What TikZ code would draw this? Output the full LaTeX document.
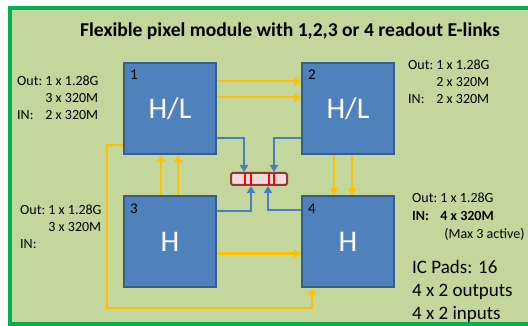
\documentclass[tikz,border=0pt]{standalone}
\usepackage{fontspec}
\setmainfont{Carlito}
\usetikzlibrary{arrows.meta,positioning}
\definecolor{bgGreen}{HTML}{C3D69B}
\definecolor{frGreen}{HTML}{00B050}
\definecolor{chipBlue}{HTML}{4F81BD}
\definecolor{chipEdge}{HTML}{385D8A}
\definecolor{linkBlue}{HTML}{4A7EBB}
\definecolor{linkGold}{HTML}{FFC000}
\definecolor{connPink}{HTML}{F2DCDB}
\definecolor{connRed}{HTML}{953735}

\begin{document}
\begin{tikzpicture}[x=1pt, y=-1pt, node distance=40pt and 84pt,
  chip/.style={draw=chipEdge, line width=2pt, fill=chipBlue, minimum width=92pt, minimum height=91pt, inner sep=0pt, text=white, font=\fontsize{30}{30}\selectfont},
  num/.style={anchor=base west, inner sep=0pt, font=\fontsize{15}{15}\selectfont},
  side/.style={anchor=base west, inner sep=0pt, font=\fontsize{14}{17}\selectfont},
  yl/.style={-{Triangle[length=7pt,width=8pt]}, linkGold, line width=2pt},
  bl/.style={-{Triangle[length=7pt,width=8pt]}, linkBlue, line width=2pt}]
\useasboundingbox (0,0) rectangle (528,326);
\draw[frGreen, line width=4pt, fill=bgGreen] (9.5,8) rectangle (540,324);
\node[anchor=base, font=\fontsize{19.6}{20}\selectfont\bfseries] (title) at (290,37) {Flexible pixel module with 1,2,3 or 4 readout E-links};
% the four chips
\node[chip] (b1) at (170,108.5) {H/L}; \node[chip, right=of b1] (b2) {H/L};
\node[chip, below=of b1] (b3) {H}; \node[chip, right=of b3] (b4) {H};
\node[num] (n1) at ([shift={(7pt,-18pt)}]b1.north west) {1};
\node[num] (n2) at ([shift={(7pt,-18pt)}]b2.north west) {2};
\node[num] (n3) at ([shift={(7pt,-19pt)}]b3.north west) {3};
\node[num] (n4) at ([shift={(7pt,-19pt)}]b4.north west) {4};
% connector
\node[draw=connRed, line width=2pt, fill=connPink, rounded corners=1.5pt, minimum width=56pt, minimum height=12pt, inner sep=0pt] (conn) at (259,179) {};
\foreach \x in {245,251,269,274} \draw[red, line width=1.2pt] (\x,173) -- (\x,185);
% yellow links
\draw[yl]([yshift=27pt]b1.east)--([yshift=27pt]b2.west);
\draw[yl]([yshift=11pt]b1.east)--([yshift=11pt]b2.west);
\draw[yl]([xshift=-9pt]b3.north)--([xshift=-9pt]b1.south);
\draw[yl]([xshift=8pt]b3.north)--([xshift=8pt]b1.south);
\draw[yl]([xshift=-14pt]b2.south)--([xshift=-14pt]b4.north);
\draw[yl]([xshift=4pt]b2.south)--([xshift=4pt]b4.north);
\draw[yl]([yshift=-12pt]b3.east)--([yshift=-12pt]b4.west);
\coordinate (loop) at (107,308);
\draw[yl]([yshift=-37pt]b1.west)-|(loop)-|([xshift=-36pt]b4.south);
% blue links
\draw[bl]([yshift=-30pt]b1.east)-|([xshift=-15pt]conn.north);
\draw[bl]([yshift=-30pt]b2.west)-|([xshift=15pt]conn.north);
\draw[bl]([yshift=30pt]b3.east)-|([xshift=-8pt]conn.south);
\draw[bl]([yshift=31pt]b4.west)-|([xshift=9pt]conn.south);
% side notes
\node[side] (t1) at (17,85.5) {\begin{tabular}[t]{@{}l@{\ }l@{}}Out: & 1 x 1.28G\\ & 3 x 320M\\ IN: & 2 x 320M\end{tabular}};
\node[side] (t2) at (408,70) {\begin{tabular}[t]{@{}l@{\ }l@{}}Out: & 1 x 1.28G\\ & 2 x 320M\\ IN: & 2 x 320M\end{tabular}};
\node[side] (t3) at (20,214.5) {\begin{tabular}[t]{@{}l@{\ }l@{}}Out: & 1 x 1.28G\\ & 3 x 320M\\ IN: & \end{tabular}};
\node[side, font=\fontsize{14}{18}\selectfont] (t4) at (412,202.5) {\begin{tabular}[t]{@{}l@{\ }l@{}}Out: & 1 x 1.28G\\ \textbf{IN:} & \textbf{4 x 320M}\\ & \hspace{4pt}(Max 3 active)\end{tabular}};
\node[side, font=\fontsize{19}{23.5}\selectfont] (pads) at (412,273) {\begin{tabular}[t]{@{}l@{}}IC Pads: 16\\ 4 x 2 outputs\\ 4 x 2 inputs\end{tabular}};
\end{tikzpicture}
\end{document}
